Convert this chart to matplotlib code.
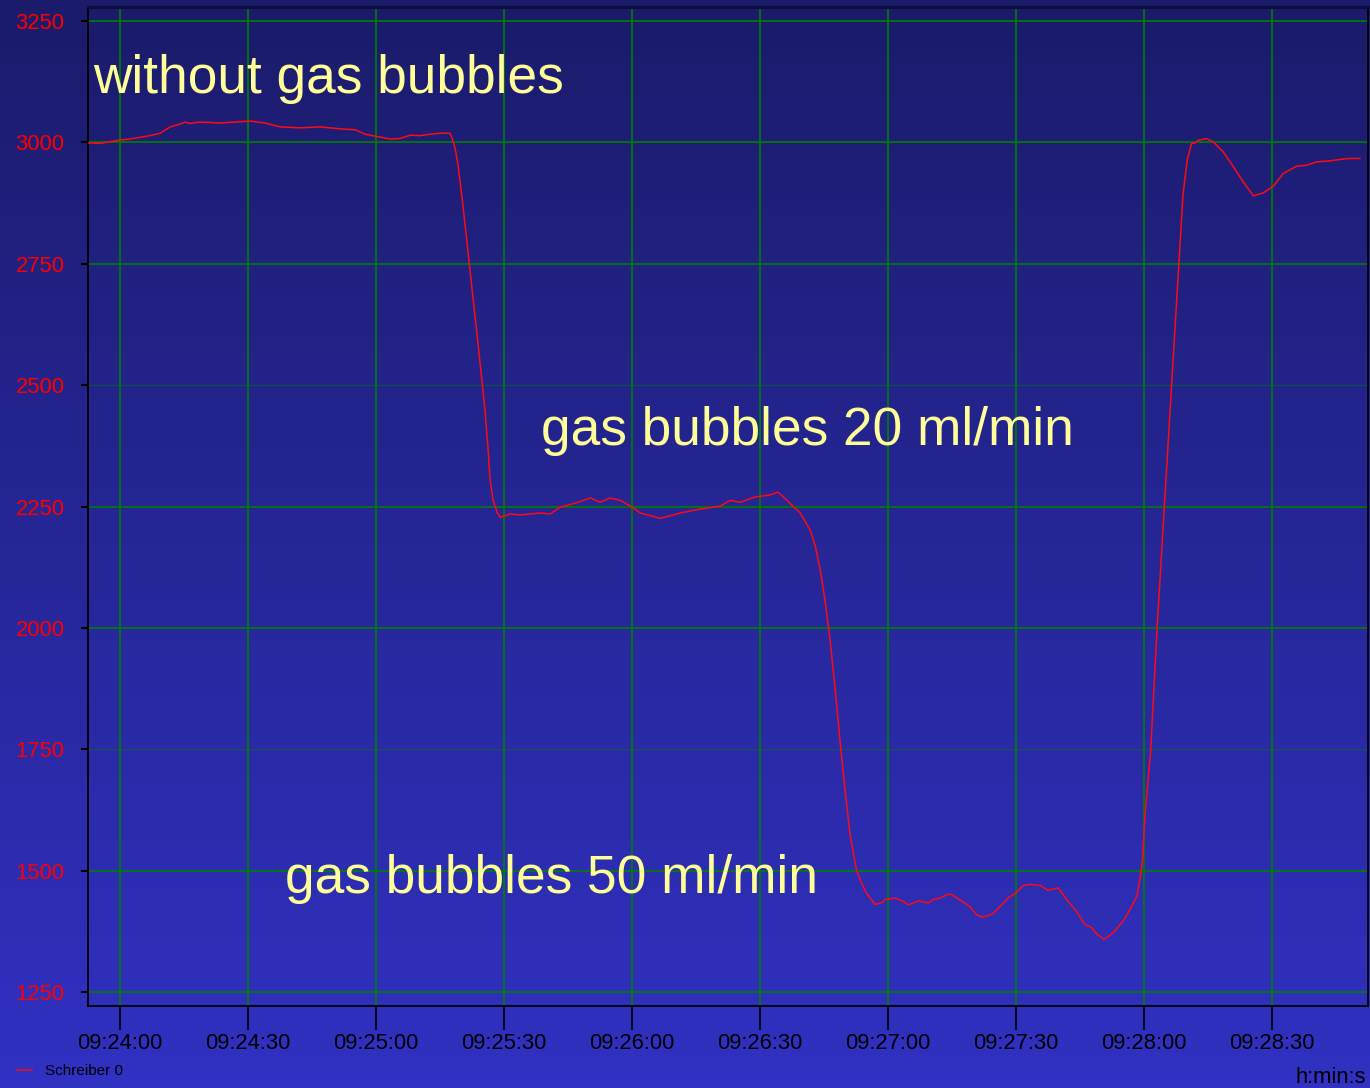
import numpy as np
import matplotlib
matplotlib.use("Agg")
import matplotlib.pyplot as plt
from matplotlib.colors import LinearSegmentedColormap

# ---- data: time in seconds after 09:24:00, signal value ----
# plateau without gas bubbles
t_plateau1 = [-7.5, -4.7, 0.0, 2.3, 7.0, 9.4, 11.7, 14.1, 15.2, 16.4, 18.75, 23.4, 27.0,
              30.5, 34.0, 37.5, 42.2, 46.9, 51.6, 55.1, 57.4, 60.9, 63.3, 65.6, 68.0,
              70.3, 72.7, 75.0, 77.3]
v_plateau1 = [2999, 2998, 3005, 3007, 3014, 3019, 3032, 3038, 3042, 3039, 3042, 3040, 3042,
              3044, 3040, 3032, 3030, 3032, 3028, 3026, 3017, 3011, 3007, 3008, 3015,
              3014, 3017, 3019, 3019]
# first drop
t_drop1 = [77.8, 78.5, 79.2, 80.2, 82.0, 83.9, 85.5, 86.25, 86.7, 87.4, 88.4]
v_drop1 = [3009, 2988, 2953, 2881, 2737, 2583, 2449, 2366, 2305, 2263, 2237]
# plateau 20 ml/min
t_plateau2 = [89.1, 91.4, 93.75, 96.1, 98.4, 100.8, 103.1, 106.6, 110.2, 112.5, 114.8,
              117.2, 120.0, 121.9, 126.6, 131.3, 135.9, 140.6, 143.0, 145.3, 148.8,
              152.3, 154.2, 157.0, 159.4, 161.7]
v_plateau2 = [2228, 2235, 2233, 2235, 2237, 2235, 2249, 2257, 2268, 2259, 2268,
              2263, 2249, 2237, 2226, 2237, 2245, 2251, 2263, 2259, 2270,
              2274, 2280, 2257, 2237, 2202]
# second drop
t_drop2 = [162.9, 164.1, 165.2, 166.4, 167.6, 168.7, 169.9, 171.1]
v_drop2 = [2170, 2119, 2057, 1975, 1872, 1769, 1666, 1573]
# plateau 50 ml/min
t_plateau3 = [172.6, 173.8, 175.0, 176.9, 178.5, 179.3, 181.6, 183.2, 184.7, 187.1, 189.4,
              190.6, 192.1, 194.1, 194.9, 197.6, 199.2, 200.7, 201.9, 203.1, 204.6, 206.6,
              208.2, 209.7, 211.7, 213.2, 215.6, 217.5, 218.7, 219.9, 221.8, 223.8, 226.1,
              227.7, 228.9, 230.6, 232.8, 235.2, 236.7, 238.3, 239.1, 239.6]
v_plateau3 = [1501, 1474, 1453, 1431, 1434, 1441, 1444, 1439, 1430, 1438, 1434,
              1441, 1444, 1452, 1451, 1436, 1426, 1410, 1405, 1407, 1412, 1430,
              1445, 1453, 1470, 1472, 1470, 1460, 1463, 1465, 1441, 1421, 1390,
              1383, 1370, 1359, 1373, 1398, 1421, 1448, 1488, 1520]
# recovery
t_rise = [240.2, 241.5, 243.0, 244.7, 246.4, 248.1, 249.1, 250.1, 251.1]
v_rise = [1615, 1743, 1995, 2246, 2497, 2750, 2892, 2964, 2998]
t_settle = [252.0, 252.6, 254.6, 256.2, 258.5, 260.9, 263.2, 265.6, 267.9, 270.3, 272.6,
            275.7, 278.1, 280.4, 283.5, 285.9, 288.2, 290.6]
v_settle = [2999, 3004, 3008, 3001, 2981, 2950, 2919, 2890, 2896, 2910, 2936,
            2951, 2953, 2960, 2962, 2965, 2967, 2967]

time_s = t_plateau1 + t_drop1 + t_plateau2 + t_drop2 + t_plateau3 + t_rise + t_settle
values = v_plateau1 + v_drop1 + v_plateau2 + v_drop2 + v_plateau3 + v_rise + v_settle

xtick_pos = [0, 30, 60, 90, 120, 150, 180, 210, 240, 270]
xtick_labels = ["09:24:00", "09:24:30", "09:25:00", "09:25:30", "09:26:00",
                "09:26:30", "09:27:00", "09:27:30", "09:28:00", "09:28:30"]
ytick_pos = [1250, 1500, 1750, 2000, 2250, 2500, 2750, 3000, 3250]
dim_grid_values = [1750, 2500]

annotations = ["without gas bubbles", "gas bubbles 20 ml/min", "gas bubbles 50 ml/min"]
annot_x = [-6.3, 98.7, 38.7]
annot_y = [3102, 2377, 1454]

series_label = "Schreiber 0"
x_unit = "h:min:s"

# ---- style ----
plt.rcParams['font.family'] = ['Liberation Sans', 'DejaVu Sans']

W, H = 1370, 1088
fig = plt.figure(figsize=(W / 100, H / 100), dpi=100)

# background gradient over the whole figure
bg = fig.add_axes([0, 0, 1, 1], zorder=-10)
cmap = LinearSegmentedColormap.from_list("bg", ["#1b1b6b", "#3131c3"])
grad = np.linspace(0, 1, 256).reshape(-1, 1)
bg.imshow(grad, cmap=cmap, aspect='auto', extent=[0, 1, 0, 1], origin='upper')
bg.set_axis_off()

ax = fig.add_axes([87.5 / W, 1 - 1006 / H, 1280 / W, 999.3 / H])
ax.set_facecolor('none')

ax.plot(time_s, values, color='#ff0a14', lw=1.1, label=series_label, zorder=3)

ax.set_xlim(-7.66, 292.35)
ax.set_ylim(1221.8, 3279.5)
ax.set_xticks(xtick_pos)
ax.set_xticklabels(xtick_labels)
ax.set_yticks(ytick_pos)
ax.grid(True, color='#008000', lw=1.2, zorder=1)
ax.set_axisbelow(True)
for val, gl in zip(ytick_pos, ax.get_ygridlines()):
    if val in dim_grid_values:
        gl.set_alpha(0.45)
        gl.set_linewidth(1.0)

ax.tick_params(axis='x', direction='out', length=17.3, width=1.2, color='black',
               labelsize=15.8, labelcolor='black', pad=2)
ax.tick_params(axis='y', direction='out', length=5, width=1.5, color='black',
               labelsize=15.8, labelcolor='#ff0000', pad=11.5)
for s in ['left', 'bottom', 'right']:
    ax.spines[s].set_color('black')
    ax.spines[s].set_linewidth(1.3)
ax.spines['top'].set_color('#0c0c40')
ax.spines['top'].set_linewidth(2.2)

for txt, tx, ty in zip(annotations, annot_x, annot_y):
    ax.text(tx, ty, txt, color='#ffff99', fontsize=38.3, ha='left', va='baseline', zorder=4)

fig.text(1366 / W, 1 - 1083 / H, x_unit, ha='right', va='baseline', fontsize=15.8, color='black')

fig.legend(loc='center left', bbox_to_anchor=(17 / W, 1 - 1071 / H), frameon=False,
           fontsize=11, handlelength=1.0, handletextpad=0.85, borderpad=0,
           borderaxespad=0, labelcolor='black')

fig.savefig("out.png", dpi=100)
